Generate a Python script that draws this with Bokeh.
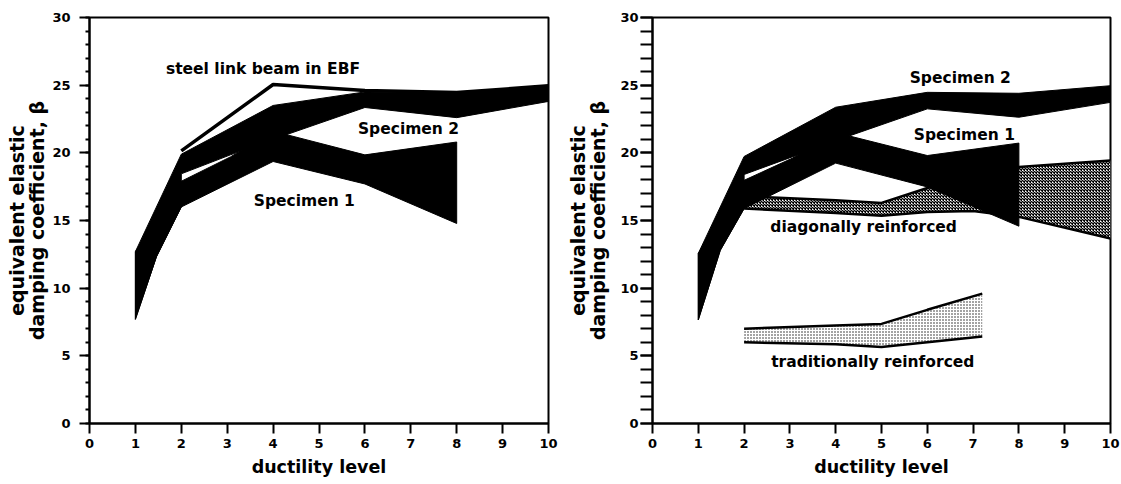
from bokeh.plotting import figure
from bokeh.layouts import row
from bokeh.models import Range1d, FixedTicker
from bokeh.core.properties import value
from bokeh.embed import file_html
from bokeh.resources import INLINE

FONT = "DejaVu Sans"

# ---------------- data ----------------
x_ticks = [0, 1, 2, 3, 4, 5, 6, 7, 8, 9, 10]
y_ticks = [0, 5, 10, 15, 20, 25, 30]
y_minor = list(range(0, 31))

# Left panel
L_s2_top_x = [1, 2, 4, 6, 8, 10]
L_s2_top_y = [12.7, 19.9, 23.5, 24.5, 24.45, 25.0]
L_s2_bot_x = [1, 1.46, 2, 2, 3.07, 4, 6, 8, 10]
L_s2_bot_y = [7.7, 12.33, 16.0, 18.45, 19.85, 21.0, 23.35, 22.6, 23.8]

L_s1_top_x = [1, 2, 3.07, 4, 6, 8]
L_s1_top_y = [12.7, 17.9, 19.7, 21.6, 19.85, 20.8]
L_s1_bot_x = [1, 1.46, 2, 4, 6, 8]
L_s1_bot_y = [7.7, 12.33, 16.0, 19.36, 17.7, 14.78]

L_link_x = [2, 4, 6, 8, 10]
L_link_y = [20.15, 25.05, 24.6, 24.45, 24.95]

L_labels = ["steel link beam in EBF", "Specimen 2", "Specimen 1"]
L_label_x = [3.78, 6.95, 4.68]
L_label_y = [26.2, 21.75, 16.45]

# Right panel
R_s2_top_x = [1, 2, 4, 6, 8, 10]
R_s2_top_y = [12.57, 19.73, 23.37, 24.47, 24.4, 24.96]
R_s2_bot_x = [1, 1.48, 2, 2, 3.05, 4, 6, 8, 10]
R_s2_bot_y = [7.66, 12.8, 15.88, 18.4, 19.7, 20.9, 23.25, 22.63, 23.73]

R_s1_top_x = [1, 2, 3.05, 4, 6, 8]
R_s1_top_y = [12.57, 17.97, 19.6, 21.5, 19.8, 20.72]
R_s1_bot_x = [1, 1.48, 2, 4, 6, 8]
R_s1_bot_y = [7.66, 12.8, 15.88, 19.24, 17.48, 14.58]

R_diag_top_x = [2, 4, 5, 6, 8, 10]
R_diag_top_y = [16.8, 16.5, 16.3, 17.4, 18.95, 19.44]
R_diag_bot_x = [2, 4, 5, 6, 7, 8, 10]
R_diag_bot_y = [15.88, 15.56, 15.35, 15.63, 15.7, 15.27, 13.67]

R_trad_top_x = [2, 4, 5, 6, 7.2]
R_trad_top_y = [7.0, 7.25, 7.36, 8.4, 9.6]
R_trad_bot_x = [2, 4, 5, 6, 7.2]
R_trad_bot_y = [6.0, 5.85, 5.65, 6.0, 6.43]

R_labels = ["Specimen 2", "Specimen 1", "diagonally reinforced", "traditionally reinforced"]
R_label_x = [6.72, 6.81, 4.61, 4.81]
R_label_y = [25.5, 21.33, 14.53, 4.54]

X_TITLE = "ductility level"
Y_TITLE = "equivalent elastic\ndamping coefficient, \u03b2"


def band(top_x, top_y, bot_x, bot_y):
    return list(top_x) + list(bot_x)[::-1], list(top_y) + list(bot_y)[::-1]


def make_fig(width, left, right, top, bottom, tick_out, label_standoff, minor_out, title_standoff):
    p = figure(width=width, height=484, output_backend="svg", toolbar_location=None,
               x_range=Range1d(0, 10), y_range=Range1d(0, 30),
               min_border_left=left, min_border_right=right,
               min_border_top=top, min_border_bottom=bottom)
    p.grid.visible = False
    p.outline_line_color = "black"
    p.outline_line_width = 2
    p.background_fill_color = "white"
    p.border_fill_color = "white"

    p.xaxis.ticker = FixedTicker(ticks=x_ticks, minor_ticks=[])
    p.yaxis.ticker = FixedTicker(ticks=y_ticks, minor_ticks=y_minor)
    for ax in (p.xaxis[0], p.yaxis[0]):
        ax.axis_line_color = "black"
        ax.axis_line_width = 2
        ax.major_tick_line_color = "black"
        ax.major_tick_line_width = 2
        ax.major_tick_in = 0
        ax.minor_tick_in = 0
        ax.major_label_text_font = FONT
        ax.major_label_text_font_style = "bold"
        ax.major_label_text_font_size = "13px"
        ax.major_label_text_color = "black"
        ax.axis_label_text_font = FONT
        ax.axis_label_text_font_style = "bold"
        ax.axis_label_text_font_size = "17.5px"
        ax.axis_label_text_color = "black"
    p.xaxis.major_tick_out = 10
    p.xaxis.major_label_standoff = 5
    p.xaxis.axis_label = X_TITLE
    p.xaxis.axis_label_standoff = 6
    p.yaxis.major_tick_out = tick_out
    p.yaxis.minor_tick_out = minor_out
    p.yaxis.minor_tick_line_color = "black"
    p.yaxis.minor_tick_line_width = 2
    p.yaxis.major_label_standoff = label_standoff
    p.yaxis.axis_label = Y_TITLE
    p.yaxis.axis_label_standoff = title_standoff
    p.yaxis.axis_label_text_line_height = 0.95
    p.yaxis.axis_label_text_font_size = "19px"
    return p


def add_labels(p, texts, xs, ys):
    p.text(x=xs, y=ys, text=texts, text_align="center", text_baseline="middle",
           text_font=value(FONT), text_font_style="bold", text_font_size="15.5px",
           text_color="black")


# ---------------- left panel ----------------
p1 = make_fig(560, 89, 12, 14, 61, 10, 9, 4, 1)
xs, ys = band(L_s1_top_x, L_s1_top_y, L_s1_bot_x, L_s1_bot_y)
p1.patch(xs, ys, fill_color="black", line_color="black", line_width=1)
xs, ys = band(L_s2_top_x, L_s2_top_y, L_s2_bot_x, L_s2_bot_y)
p1.patch(xs, ys, fill_color="black", line_color="black", line_width=1)
p1.line(L_link_x, L_link_y, line_color="black", line_width=3.5)
add_labels(p1, L_labels, L_label_x, L_label_y)

# ---------------- right panel ----------------
p2 = make_fig(561, 92, 11, 17, 60, 12, 2, 12, 8)
xs, ys = band(R_trad_top_x, R_trad_top_y, R_trad_bot_x, R_trad_bot_y)
p2.patch(xs, ys, fill_color="white", line_alpha=0,
         hatch_pattern="dot", hatch_color="black", hatch_scale=3, hatch_weight=1, hatch_alpha=0.9)
p2.line(R_trad_top_x, R_trad_top_y, line_color="black", line_width=2.5)
p2.line(R_trad_bot_x, R_trad_bot_y, line_color="black", line_width=2.5)
xs, ys = band(R_diag_top_x, R_diag_top_y, R_diag_bot_x, R_diag_bot_y)
p2.patch(xs, ys, fill_color="white", line_alpha=0,
         hatch_pattern="diagonal_cross", hatch_color="black", hatch_scale=3, hatch_weight=1.3)
p2.line(R_diag_top_x, R_diag_top_y, line_color="black", line_width=2.5)
p2.line(R_diag_bot_x, R_diag_bot_y, line_color="black", line_width=2.5)
xs, ys = band(R_s1_top_x, R_s1_top_y, R_s1_bot_x, R_s1_bot_y)
p2.patch(xs, ys, fill_color="black", line_color="black", line_width=1)
xs, ys = band(R_s2_top_x, R_s2_top_y, R_s2_bot_x, R_s2_bot_y)
p2.patch(xs, ys, fill_color="black", line_color="black", line_width=1)
add_labels(p2, R_labels, R_label_x, R_label_y)

layout = row(p1, p2, spacing=0)
open("out.html", "w").write(file_html(layout, INLINE))
